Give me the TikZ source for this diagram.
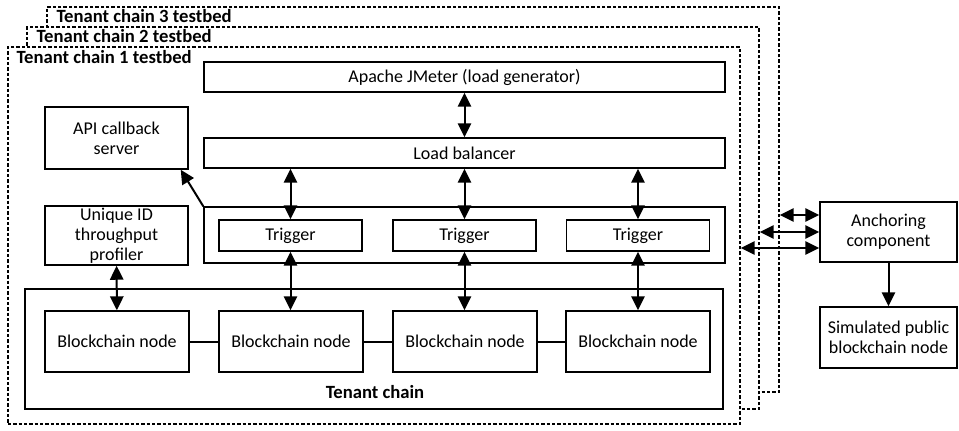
\documentclass[tikz,border=0pt]{standalone}
\usepackage{fontspec}
\setmainfont{Carlito}
\usetikzlibrary{arrows.meta,calc,positioning}

\begin{document}
\begin{tikzpicture}[x=0.75pt,y=-0.75pt,>={Triangle[length=10.5pt,width=10pt]},
	txt/.style={font=\fontsize{13.5}{15}\selectfont},
	box/.style={draw,line width=1.1pt,inner sep=0pt,align=center,fill=white,txt},
	bed/.style={draw,line width=1.1pt,dash pattern=on 2.5pt off 1.5pt,fill=white,inner sep=0pt,minimum width=549pt},
	bedlabel/.style={anchor=base west,inner sep=0pt,font=\bfseries\fontsize{14}{15}\selectfont},
	link/.style={line width=1.5pt}]
	\useasboundingbox (0,0) rectangle (959,430);
	\node[bed,minimum height=288.75pt] (bed3) at (413,199.5) {};
	\node[bedlabel] (bed3lbl) at ($(bed3.north west)+(10,16)$) {Tenant chain 3 testbed};
	\node[bed,minimum height=286.5pt] (bed2) at (393,218) {};
	\node[bedlabel] (bed2lbl) at ($(bed2.north west)+(10,16)$) {Tenant chain 2 testbed};
	\node[bed,minimum height=282.75pt] (bed1) at (374,235.5) {};
	\node[bedlabel] (bed1lbl) at ($(bed1.north west)+(9,17)$) {Tenant chain 1 testbed};
	\node[box,minimum width=390.75pt,minimum height=22.5pt] (jmeter) at (464.5,77) {Apache JMeter (load generator)};
	\node[box,minimum width=390.75pt,minimum height=22.5pt] (lb) at (464.5,153) {Load balancer};
	\node[box,minimum width=107.25pt,minimum height=46.5pt] (api) at (116.5,138) {API callback\\server};
	\node[box,minimum width=107.25pt,minimum height=44.25pt] (uid) at (116.5,235.5) {Unique ID\\throughput\\profiler};
	\node[box,minimum width=390.75pt,minimum height=42pt] (trigs) at (464.5,235) {};
	\node[box,minimum width=107.25pt,minimum height=23.25pt] (trig1) at (290.5,235.5) {Trigger};
	\node[box,minimum width=107.25pt,minimum height=23.25pt] (trig2) at (464.5,235.5) {Trigger};
	\node[box,minimum width=107.25pt,minimum height=23.25pt] (trig3) at (638,235.5) {Trigger};
	\node[box,minimum width=523.5pt,minimum height=90pt] (chain) at (374,349) {};
	\node[bedlabel,anchor=base] (chainlbl) at (375,398) {Tenant chain};
	\node[box,minimum width=108pt,minimum height=45.75pt] (bc1) at (117,341.5) {Blockchain node};
	\node[box,minimum width=108pt,minimum height=45.75pt] (bc2) at (291,341.5) {Blockchain node};
	\node[box,minimum width=108pt,minimum height=45.75pt] (bc3) at (465,341.5) {Blockchain node};
	\node[box,minimum width=108pt,minimum height=45.75pt] (bc4) at (638,341.5) {Blockchain node};
	\node[box,minimum width=102.75pt,minimum height=45pt] (anch) at (888.5,232) {Anchoring\\component};
	\node[box,minimum width=102.75pt,minimum height=45.75pt] (sim) at (888.5,337.5) {Simulated public\\blockchain node};
	\draw[link] (bc1) -- (bc2);
	\draw[link] (bc2) -- (bc3);
	\draw[link] (bc3) -- (bc4);
	\draw[link,<->] (jmeter) -- (lb);
	\draw[link,<->] (lb.south -| trig1) -- (trig1);
	\draw[link,<->] (lb) -- (trig2);
	\draw[link,<->] (lb.south -| trig3) -- (trig3);
	\draw[link,<->] (trig1) -- (trig1 |- bc1.north);
	\draw[link,<->] (trig2) -- (trig2 |- bc1.north);
	\draw[link,<->] (trig3) -- (bc4);
	\draw[link,<->] (uid) -- (bc1);
	\draw[link,->] (trigs.north west) -- ([xshift=-6pt]api.south east);
	\draw[link,<->] ([yshift=12.75pt]anch.west) -- ([yshift=12.75pt]anch.west -| bed3.east);
	\draw[link,<->] (anch.west) -- (anch.west -| bed2.east);
	\draw[link,<->] ([yshift=-12pt]anch.west) -- ([yshift=-12pt]anch.west -| bed1.east);
	\draw[link,->] (anch) -- (sim);
\end{tikzpicture}
\end{document}
